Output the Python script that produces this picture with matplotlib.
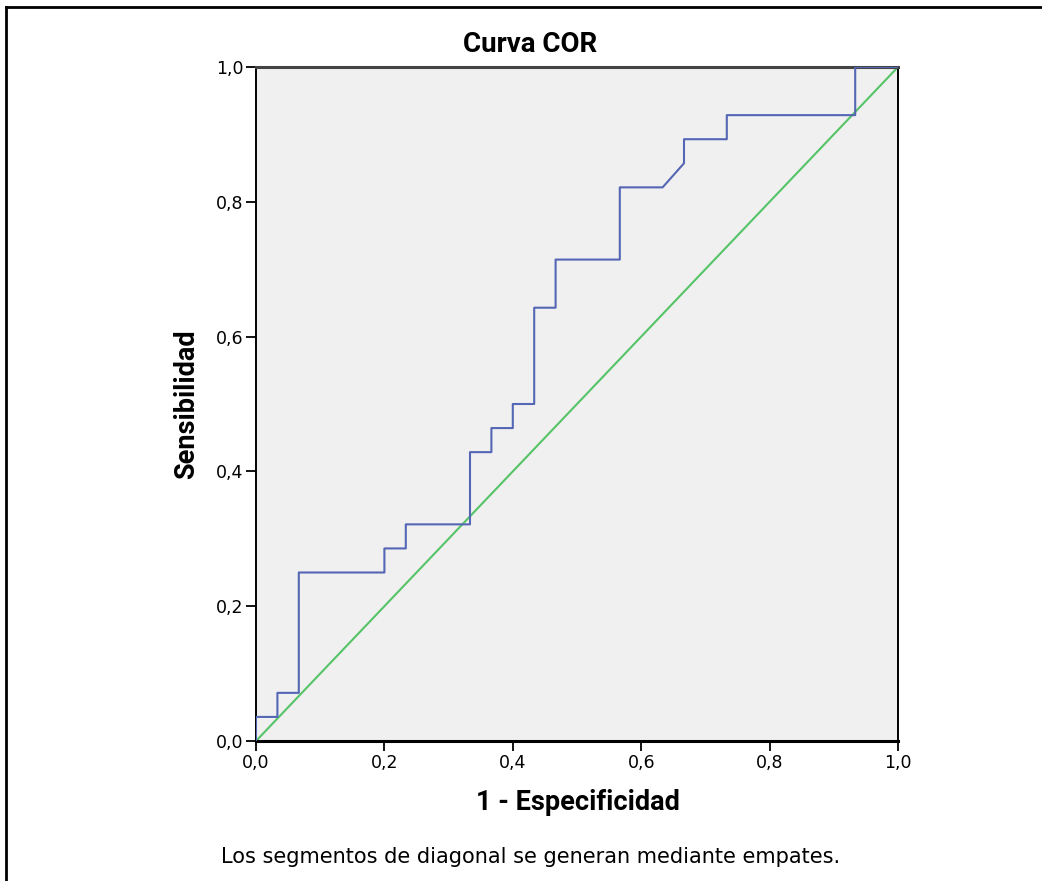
import matplotlib
matplotlib.use("Agg")
import matplotlib.pyplot as plt
from matplotlib.lines import Line2D

# ROC curve data (1 - specificity, sensitivity)
fpr = [0/30, 0/30, 1/30, 1/30, 2/30, 2/30, 6/30, 6/30, 7/30, 7/30, 10/30, 10/30,
       11/30, 11/30, 12/30, 12/30, 13/30, 13/30, 14/30, 14/30, 17/30, 17/30,
       19/30, 20/30, 20/30, 22/30, 22/30, 28/30, 28/30, 30/30]
tpr = [0/28, 1/28, 1/28, 2/28, 2/28, 7/28, 7/28, 8/28, 8/28, 9/28, 9/28, 12/28,
       12/28, 13/28, 13/28, 14/28, 14/28, 18/28, 18/28, 20/28, 20/28, 23/28,
       23/28, 24/28, 25/28, 25/28, 26/28, 26/28, 28/28, 28/28]
ref_x = [0.0, 1.0]
ref_y = [0.0, 1.0]
ticks = [0.0, 0.2, 0.4, 0.6, 0.8, 1.0]
tick_labels = ["0,0", "0,2", "0,4", "0,6", "0,8", "1,0"]

bold_fam = ["Roboto", "DejaVu Sans"]
reg_fam = ["DejaVu Sans"]

fig = plt.figure(figsize=(10.42, 8.81), dpi=100)
ax = fig.add_axes([256/1042, 1-741/881, 642/1042, 674/881])
ax.set_facecolor("#F0F0F0")

ax.plot(ref_x, ref_y, color="#55C467", lw=1.5, zorder=2)
ax.plot(fpr, tpr, color="#5466B4", lw=1.5, zorder=3)

ax.set_xlim(0, 1)
ax.set_ylim(0, 1)
ax.set_xticks(ticks)
ax.set_yticks(ticks)
ax.set_xticklabels(tick_labels, family=reg_fam, fontsize=12.5)
ax.set_yticklabels(tick_labels, family=reg_fam, fontsize=12.5)
ax.tick_params(direction="out", length=7, width=1.3, color="black", pad=2)
for s in ax.spines.values():
    s.set_linewidth(1.4)
    s.set_color("black")
ax.spines["top"].set_linewidth(2.2)
ax.spines["top"].set_color("#444444")
ax.spines["bottom"].set_linewidth(2.2)

fig.text(530/1042, 1-45/881, "Curva COR", ha="center", va="center",
         family=bold_fam, fontsize=20, fontweight="bold")
fig.text(578/1042, 1-802/881, "1 - Especificidad", ha="center", va="center",
         family=bold_fam, fontsize=19.5, fontweight="bold")
fig.text(187/1042, 1-404/881, "Sensibilidad", ha="center", va="center",
         rotation=90, family=bold_fam, fontsize=19.5, fontweight="bold")
fig.text(531/1042, 1-857/881, "Los segmentos de diagonal se generan mediante empates.",
         ha="center", va="center", family=reg_fam, fontsize=15)

# outer frame (top and left)
fig.add_artist(Line2D([6/1042, 1.0], [1-7/881, 1-7/881], transform=fig.transFigure,
                      color="black", lw=2))
fig.add_artist(Line2D([6/1042, 6/1042], [0.0, 1-7/881], transform=fig.transFigure,
                      color="black", lw=2))

fig.savefig("out.png", dpi=100, facecolor="white")
